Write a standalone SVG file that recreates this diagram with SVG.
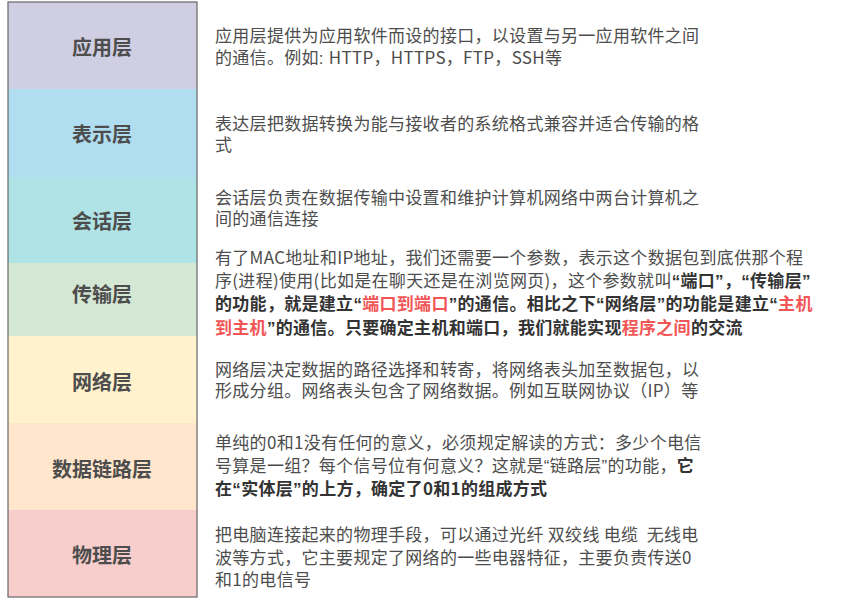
<svg xmlns="http://www.w3.org/2000/svg" width="842" height="604" viewBox="0 0 842 604">
<style>
.lbl{font-family:"Noto Sans CJK SC","Noto Sans",sans-serif;font-size:20px;font-weight:bold;fill:#4d4d4d;text-anchor:middle;dominant-baseline:central}
.txt{font-family:"Noto Sans CJK SC","Noto Sans",sans-serif;font-size:17px;fill:#4d4d4d;letter-spacing:0.3px}
.b{font-weight:bold;fill:#333}
.r{fill:#f25555}
.q{font-family:"Liberation Sans",sans-serif}
</style>
<rect x="0" y="0" width="842" height="604" fill="#ffffff"/>
<g id="layer-app"><rect x="8" y="2" width="189" height="87" fill="#d0cee2"/><text class="lbl" x="102" y="46">应用层</text></g>
<g id="layer-pres"><rect x="8" y="89" width="189" height="88" fill="#b1ddf0"/><text class="lbl" x="102" y="133">表示层</text></g>
<g id="layer-sess"><rect x="8" y="177" width="189" height="86" fill="#b0e3e6"/><text class="lbl" x="102" y="220">会话层</text></g>
<g id="layer-trans"><rect x="8" y="263" width="189" height="73" fill="#d5e8d4"/><text class="lbl" x="102" y="293">传输层</text></g>
<g id="layer-net"><rect x="8" y="336" width="189" height="87" fill="#fff2cc"/><text class="lbl" x="102" y="381">网络层</text></g>
<g id="layer-link"><rect x="8" y="423" width="189" height="87" fill="#ffe6cc"/><text class="lbl" x="102" y="468">数据链路层</text></g>
<g id="layer-phys"><rect x="8" y="510" width="189" height="87" fill="#f8cecc"/><text class="lbl" x="102" y="554">物理层</text></g>
<rect x="8" y="2" width="189" height="595" fill="none" stroke="#666666" stroke-width="1.2"/>
<g id="desc-app" class="txt">
<text x="215" y="42">应用层提供为应用软件而设的接口，以设置与另一应用软件之间</text>
<text x="215" y="64">的通信。例如<tspan class="q">: </tspan>HTTP，HTTPS，FTP，SSH等</text>
</g>
<g id="desc-pres" class="txt">
<text x="215" y="130">表达层把数据转换为能与接收者的系统格式兼容并适合传输的格</text>
<text x="215" y="151">式</text>
</g>
<g id="desc-sess" class="txt">
<text x="215" y="204">会话层负责在数据传输中设置和维护计算机网络中两台计算机之</text>
<text x="215" y="225">间的通信连接</text>
</g>
<g id="desc-trans" class="txt">
<text x="215" y="264">有了MAC地址和IP地址，我们还需要一个参数，表示这个数据包到底供那个程</text>
<text x="215" y="287">序(进程)使用(比如是在聊天还是在浏览网页)，这个参数就叫<tspan class="b"><tspan class="q">“</tspan>端口<tspan class="q">”</tspan>，<tspan class="q">“</tspan>传输层<tspan class="q">”</tspan></tspan></text>
<text x="215" y="310" class="b">的功能，就是建立<tspan class="q">“</tspan><tspan class="r">端口到端口</tspan><tspan class="q">”</tspan>的通信。相比之下<tspan class="q">“</tspan>网络层<tspan class="q">”</tspan>的功能是建立<tspan class="q">“</tspan><tspan class="r">主机</tspan></text>
<text x="215" y="334" class="b"><tspan class="r">到主机</tspan><tspan class="q">”</tspan>的通信。只要确定主机和端口，我们就能实现<tspan class="r">程序之间</tspan>的交流</text>
</g>
<g id="desc-net" class="txt">
<text x="215" y="376">网络层决定数据的路径选择和转寄，将网络表头加至数据包，以</text>
<text x="215" y="397">形成分组。网络表头包含了网络数据。例如互联网协议（IP）等</text>
</g>
<g id="desc-link" class="txt">
<text x="215" y="449">单纯的0和1没有任何的意义，必须规定解读的方式：多少个电信</text>
<text x="215" y="472">号算是一组？每个信号位有何意义？这就是<tspan class="q">“</tspan>链路层<tspan class="q">”</tspan>的功能，<tspan class="b">它</tspan></text>
<text x="215" y="495" class="b">在<tspan class="q">“</tspan>实体层<tspan class="q">”</tspan>的上方，确定了0和1的组成方式</text>
</g>
<g id="desc-phys" class="txt">
<text x="215" y="541">把电脑连接起来的物理手段，可以通过光纤 双绞线 电缆 &#160;无线电</text>
<text x="215" y="564">波等方式，它主要规定了网络的一些电器特征，主要负责传送0</text>
<text x="215" y="586">和1的电信号</text>
</g>
<g id="connectors"></g>
</svg>
